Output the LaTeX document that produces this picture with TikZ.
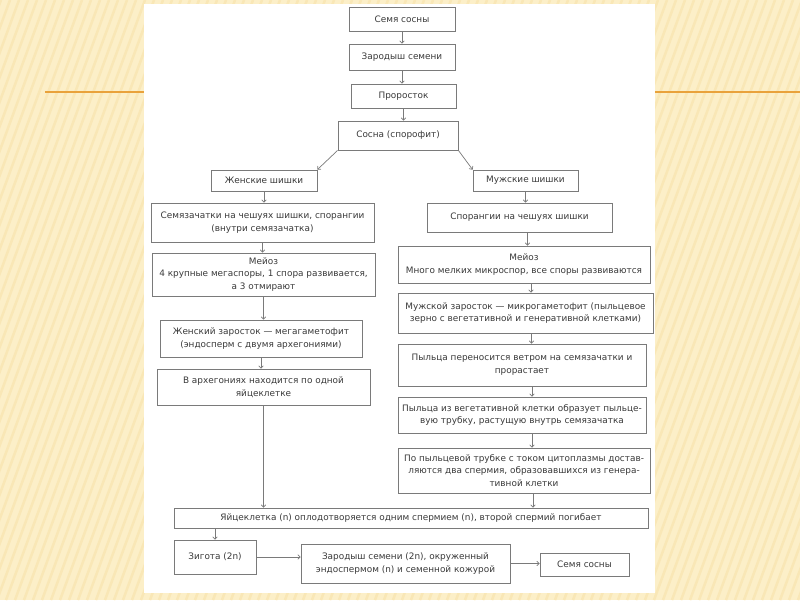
\documentclass[tikz,border=0pt]{standalone}
\usepackage{fontspec}
\setmainfont{DejaVu Sans}
\usetikzlibrary{arrows.meta}
\definecolor{cream}{HTML}{FCEFC8}
\definecolor{stripe}{HTML}{F9E7B6}
\definecolor{orangeline}{HTML}{E9A23B}
\definecolor{boxline}{HTML}{7A7A7A}
\definecolor{txt}{HTML}{3A3A3A}
\tikzset{
  box/.style={draw=boxline, line width=0.8pt, fill=white, inner sep=0pt, align=center,
    text=txt, font=\fontsize{8.9}{12.8}\selectfont},
  arr/.style={draw=boxline, line width=0.7pt, -{To[length=3pt,width=5pt]}},
}
% \bx{name}{x1}{y1}{x2}{y2}{text}
\newcommand{\bx}[6]{%
  \pgfmathsetmacro{\cx}{(#2+#4)/2}\pgfmathsetmacro{\cy}{(#3+#5)/2}%
  \pgfmathsetmacro{\w}{#4-#2}\pgfmathsetmacro{\h}{#5-#3}%
  \node[box, minimum width=\w pt, minimum height=\h pt] (#1) at (\cx,\cy) {#6};}
\begin{document}
\begin{tikzpicture}[x=1pt,y=-1pt]
\useasboundingbox (0,0) rectangle (800,600);
\fill[cream] (0,0) rectangle (800,600);
\begin{scope}
\clip (0,0) rectangle (800,600);
\foreach \i in {-300,-291,...,800} \draw[stripe, line width=2.5pt] (\i,600) -- (\i+220,0);
\end{scope}
\draw[orangeline, line width=2pt] (45,92) -- (144,92);
\draw[orangeline, line width=2pt] (655,92) -- (800,92);
\fill[white] (144,4) rectangle (655,593);

\bx{seed}{349}{7}{455}{31}{Семя сосны}
\bx{germ}{349}{44}{455}{70}{Зародыш семени}
\bx{sprout}{351}{84}{456}{108}{Проросток}
\bx{pine}{338}{121}{458}{150}{Сосна (спорофит)}
\bx{fcone}{211}{170}{317}{191}{Женские шишки}
\bx{mcone}{473}{170}{578}{191}{Мужские шишки}
\bx{ovule}{151}{203}{374}{242}{Семязачатки на чешуях шишки, спорангии\\(внутри семязачатка)}
\bx{spor}{427}{203}{612}{232}{Спорангии на чешуях шишки}
\bx{fmei}{152}{253}{375}{296}{Мейоз\\4 крупные мегаспоры, 1 спора развивается,\\а 3 отмирают}
\bx{mmei}{398}{246}{650}{283}{Мейоз\\Много мелких микроспор, все споры развиваются}
\bx{fgam}{160}{320}{362}{357}{Женский заросток — мегагаметофит\\(эндосперм с двумя архегониями)}
\bx{mgam}{398}{293}{653}{333}{Мужской заросток — микрогаметофит (пыльцевое\\зерно с вегетативной и генеративной клетками)}
\bx{arch}{157}{369}{370}{405}{В архегониях находится по одной\\яйцеклетке}
\bx{pol1}{398}{344}{646}{386}{Пыльца переносится ветром на семязачатки и\\прорастает}
\bx{pol2}{398}{397}{646}{433}{Пыльца из вегетативной клетки образует пыльце-\\вую трубку, растущую внутрь семязачатка}
\bx{tube}{398}{448}{650}{493}{По пыльцевой трубке с током цитоплазмы достав-\\ляются два спермия, образовавшихся из генера-\\тивной клетки}
\bx{egg}{174}{508}{648}{528}{Яйцеклетка (n) оплодотворяется одним спермием (n), второй спермий погибает}
\bx{zyg}{174}{540}{256}{574}{Зигота (2n)}
\bx{emb}{301}{544}{510}{583}{Зародыш семени (2n), окруженный\\эндоспермом (n) и семенной кожурой}
\bx{seed2}{540}{553}{629}{576}{Семя сосны}

\draw[arr] (seed.south) -- (seed.south |- germ.north);
\draw[arr] (germ.south) -- (germ.south |- sprout.north);
\draw[arr] (sprout.south) -- (sprout.south |- pine.north);
\draw[arr] (pine.south west) -- (fcone.north east);
\draw[arr] (pine.south east) -- (mcone.north west);
\draw[arr] (fcone.south) -- (fcone.south |- ovule.north);
\draw[arr] (ovule.south) -- (ovule.south |- fmei.north);
\draw[arr] (fmei.south) -- (fmei.south |- fgam.north);
\draw[arr] (fgam.south) -- (fgam.south |- arch.north);
\draw[arr] (arch.south) -- (arch.south |- egg.north);
\draw[arr] (mcone.south) -- (mcone.south |- spor.north);
\draw[arr] ([xshift=8pt]spor.south) -- ([xshift=8pt]spor.south |- mmei.north);
\draw[arr] ([xshift=7pt]mmei.south) -- ([xshift=7pt]mmei.south |- mgam.north);
\draw[arr] ([xshift=6pt]mgam.south) -- ([xshift=6pt]mgam.south |- pol1.north);
\draw[arr] ([xshift=10pt]pol1.south) -- ([xshift=10pt]pol1.south |- pol2.north);
\draw[arr] ([xshift=10pt]pol2.south) -- ([xshift=10pt]pol2.south |- tube.north);
\draw[arr] ([xshift=9pt]tube.south) -- ([xshift=9pt]tube.south |- egg.north);
\draw[arr] (zyg.north |- egg.south) -- (zyg.north);
\draw[arr] (zyg.east) -- (zyg.east -| emb.west);
\draw[arr] (emb.east) -- (emb.east -| seed2.west);
\end{tikzpicture}
\end{document}
